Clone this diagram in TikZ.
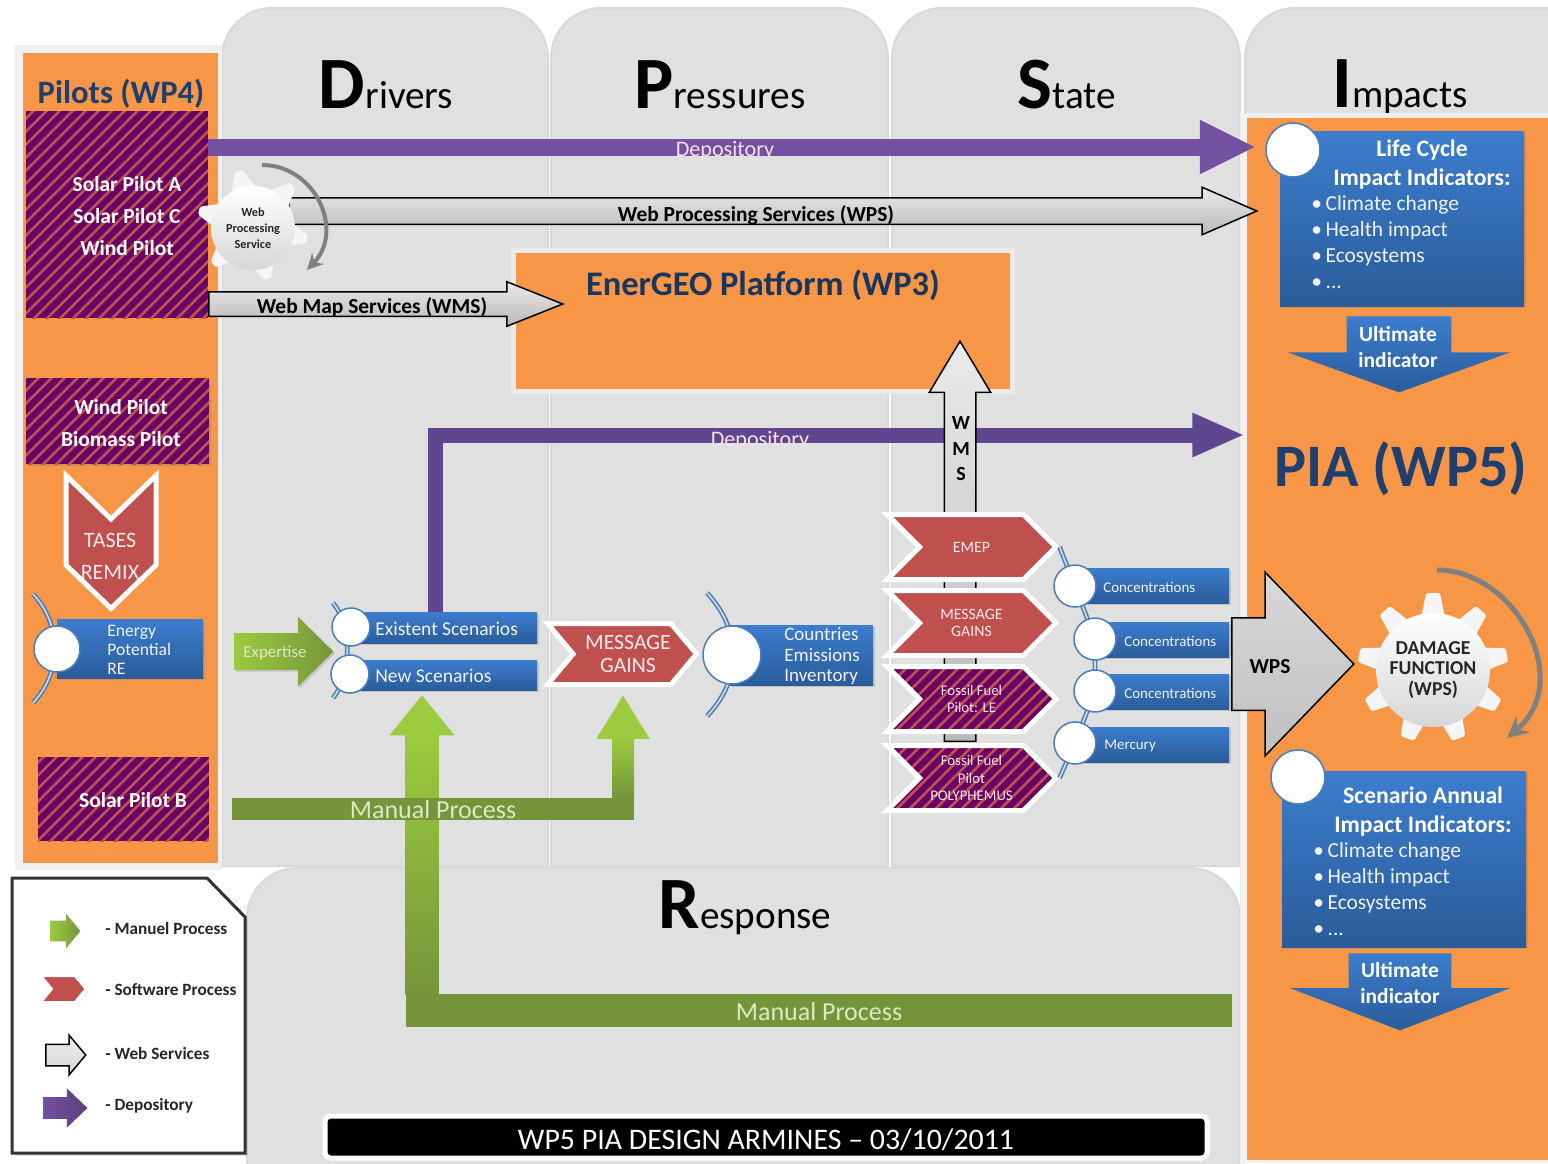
\documentclass[tikz,border=0pt]{standalone}
\usepackage{fontspec}
\setmainfont{Carlito}
\usetikzlibrary{arrows.meta,calc,shapes.arrows,shapes.symbols,shadows}
\definecolor{orangepia}{HTML}{F79646}
\definecolor{panelgray}{HTML}{E0E0E0}
\definecolor{navytxt}{HTML}{1F3F6E}
\definecolor{redsoft}{HTML}{C0504D}
\definecolor{purplehatch}{HTML}{660066}
\definecolor{purpledep}{HTML}{7350A0}
\definecolor{purpledark}{HTML}{5F478F}
\definecolor{bluetop}{HTML}{3C7DCE}
\definecolor{bluebot}{HTML}{2A5C9A}
\definecolor{blueline}{HTML}{4A7EBB}
\definecolor{greenlight}{HTML}{9BCB3E}
\definecolor{greendark}{HTML}{76953A}
\definecolor{greentint}{HTML}{DDE8C4}
\def\px{0.02cm}
\tikzset{
	panel/.style={fill=panelgray,draw=black!15,line width=2*\px,rounded corners=1cm},
	softshadow/.style={drop shadow={opacity=.3,shadow xshift=1pt,shadow yshift=-1pt}},
	hatch/.style={fill=purplehatch,path picture={\foreach \s in {-4,-3.74,...,4} \draw[redsoft,line width=2.6*\px] ([xshift=\s cm]path picture bounding box.center) ++(-2.5cm,-2.5cm) -- ++(5cm,5cm);}},
	hatchbox/.style={hatch,inner sep=0},
	pilottxt/.style={text=white,font=\fontsize{12.2}{18.2}\selectfont\bfseries,align=center},
	bluebox/.style={top color=bluetop,bottom color=bluebot,softshadow,inner sep=0},
	bullet/.style={circle,fill=white,draw=blueline,line width=1.5*\px,inner sep=0},
	linkarc/.style={draw=blueline,line width=1.6*\px,double=black!15,double distance=1.6*\px},
	chevron/.style={softshadow,signal,signal to=east,signal from=west,signal pointer angle=90,draw=white,line width=5*\px,fill=redsoft,inner sep=0,minimum width=169*\px,minimum height=65*\px,text=red!8,align=center},
	webarrow/.style={single arrow,anchor=tail,draw=black,line width=1.5*\px,top color=white!92!black,bottom color=black!28,inner xsep=0},
	blockarrow/.style={single arrow,anchor=tail,inner xsep=0},
	depoline/.style={color=purpledep,line width=17*\px},
	depodark/.style={color=purpledark,line width=15*\px},
	manual/.style={color=greendark,line width=#1*\px},
	smalltxt/.style={text=blue!5,font=\fontsize{8.5}{10}\selectfont},
	bluetxt/.style={text=blue!5,font=\fontsize{11.1}{12}\selectfont,align=left},
	lighttxt/.style={text=white!88!purple,font=\fontsize{12.6}{14}\selectfont},
	mantxt/.style={text=greentint,font=\fontsize{14.8}{16}\selectfont},
	webtxt/.style={text=black,font=\fontsize{12.2}{14}\selectfont\bfseries},
	headtxt/.style={anchor=base,font=\fontsize{22.3}{26}\selectfont},
	titletxt/.style={text=white,font=\fontsize{13.5}{16}\selectfont\bfseries,align=center},
	bulltxt/.style={text=blue!5,font=\fontsize{12.2}{14.8}\selectfont,align=left,anchor=west,inner sep=0},
	legendtxt/.style={anchor=west,text=black!85,font=\fontsize{9.8}{11}\selectfont\bfseries},
	gearface/.style={fill=white!96!black,rounded corners=1pt},
	gearbody/.style={circle,top color=white,bottom color=black!16,inner sep=0,text=black!85,align=center},
	spin/.style={draw=black!50,line width=4*\px,-{Stealth[length=9pt,width=9pt]}},
}
\begin{document}
\begin{tikzpicture}[x=0.02cm,y=-0.02cm]
	\useasboundingbox (0,0) rectangle (1548,1163);
	% Panels
	\foreach \xa/\xb in {222/548,551/888,892/1240,1245/1600}
		\filldraw[panel] (\xa,866) -- (\xa,8) -- (\xb,8) [sharp corners] -- (\xb,866) -- cycle;
	\filldraw[panel] (247,1180) -- (247,868) -- (1240,868) [sharp corners] -- (1240,1180) -- cycle;
	\node[headtxt] (drivers) at (386,108) {{\fontsize{42}{46}\selectfont\bfseries D}rivers};
	\node[headtxt] (pressures) at (720,108) {{\fontsize{42}{46}\selectfont\bfseries P}ressures};
	\node[headtxt] (state) at (1067,108) {{\fontsize{42}{46}\selectfont\bfseries S}tate};
	\node[headtxt] (impacts) at (1400,107) {{\fontsize{42}{46}\selectfont\bfseries I}mpacts};
	\node[headtxt] (response) at (745,928) {{\fontsize{42}{46}\selectfont\bfseries R}esponse};
	% Orange columns
	\fill[black!6] (15,45) rectangle (222,870);
	\fill[orangepia] (23,53) rectangle (218,863);
	\fill[black!6] (1240,113) rectangle (1548,1163);
	\fill[orangepia] (1247,118) rectangle (1548,1160);
	\node[text=navytxt,font=\fontsize{18.6}{20}\selectfont\bfseries] (pilots) at (121,94) {Pilots (WP4)};
	\node[text=navytxt,font=\fontsize{34.3}{40}\selectfont\bfseries] (pia) at (1401,469) {PIA (WP5)};
	% Pilot boxes
	\node[hatchbox,minimum width=182*\px,minimum height=207*\px] (solarbox) at (117,214.5) {};
	\node[pilottxt] (solartxt) at (127,216) {Solar Pilot A\\Solar Pilot C\\Wind Pilot};
	\node[softshadow,hatchbox,minimum width=183*\px,minimum height=86*\px] (windbox) at (117.5,421) {};
	\node[pilottxt] (windtxt) at (121,423) {Wind Pilot\\Biomass Pilot};
	\node[hatchbox,minimum width=171*\px,minimum height=84*\px] (solarb) at (123.5,799) {};
	\node[pilottxt] (solarbtxt) at (133,800) {Solar Pilot B};
	% Energy potential
	\draw[linkarc] (33,594) .. controls (62,625) and (62,672) .. (33,703);
	\node[bluebox,minimum width=146*\px,minimum height=59*\px] (energy) at (130,648.5) {};
	\node[bullet,minimum size=46*\px] (energyb) at (57,649) {};
	\node[bluetxt,anchor=west,inner sep=0,font=\fontsize{10}{11}\selectfont] (energytxt) at (107,650) {Energy\\Potential\\RE};
	\node[chevron,signal to=south,signal from=north,signal pointer angle=92,minimum width=90*\px,minimum height=46*\px] (tases) at (111,542) {};
	\node[text=red!8,font=\fontsize{12.5}{18.2}\selectfont,align=center] (tasestxt) at (110,556) {TASES\\REMIX};
	% Platform
	\node[softshadow,fill=orangepia,draw=white!92!black,line width=5*\px,minimum width=499*\px,minimum height=141*\px] (platform) at (763,321) {};
	\node[text=navytxt!85!black,font=\fontsize{19.6}{22}\selectfont\bfseries] (platformtxt) at (763,285) {EnerGEO Platform (WP3)};
	% Top arrows
	\coordinate (deptip) at (1256,147);
	\draw[depoline,-{Triangle[length=32pt,width=28.5pt]}] (solarbox.east |- deptip) -- (deptip);
	\node[lighttxt] (deptxt) at (725,151) {Depository};
	\node[webarrow,inner ysep=12.5*\px,minimum height=968*\px,minimum width=46*\px,single arrow head extend=10.5*\px,single arrow tip angle=47] (wps) at (288,211) {};
	\node[webtxt] (wpstxt) at (756,215) {Web Processing Services (WPS)};
	\node[webarrow,inner ysep=11.5*\px,minimum height=354*\px,minimum width=43*\px,single arrow head extend=10*\px,single arrow tip angle=43.4] (wms) at (208,304) {};
	\node[webtxt] (wmstxt) at (372,307) {Web Map Services (WMS)};
	% Small gear
	\begin{scope}[shift={(253,225)}]
		\foreach \a in {105,45,-15,-75,-135,165}
			\fill[gearface,rotate=\a] (0.7cm,-0.26cm) -- (1.12cm,-0.08cm) -- (1.12cm,0.08cm) -- (0.7cm,0.26cm) -- cycle;
	\end{scope}
	\node[gearbody,minimum size=84*\px,font=\fontsize{7}{9}\selectfont\bfseries] (webgear) at (253,228) {Web\\Processing\\Service};
	\coordinate (spina) at (262,165);
	\coordinate (spinb) at (307,270);
	\draw[spin] (spina) .. controls (315,165) and (345,230) .. (spinb);
	% Second depository
	\coordinate (depbtip) at (1245,435);
	\coordinate (depbstart) at (435,612);
	\draw[depodark,-{Triangle[length=30pt,width=23pt]}] (depbstart) |- (depbtip);
	\node[lighttxt] (depbtxt) at (760,441) {Depository};
	\node[webarrow,shape border rotate=90,inner xsep=15*\px,inner ysep=0,minimum height=400*\px,minimum width=60*\px,single arrow head extend=15*\px,single arrow tip angle=62] (wmsup) at (960,742) {};
	\node[webtxt,align=center,font=\fontsize{11.4}{14.5}\selectfont\bfseries] (wmsuptxt) at (961,449) {W\\M\\S};
	% Scenarios
	\draw[linkarc] (333,603) .. controls (352,625) and (352,675) .. (333,698);
	\node[bluebox,minimum width=189*\px,minimum height=31*\px] (existing) at (442.5,627.5) {};
	\node[bluebox,minimum width=187*\px,minimum height=30*\px] (newscen) at (443.5,675) {};
	\node[bullet,minimum size=38*\px] (existingb) at (351,627) {};
	\node[bullet,minimum size=38*\px] (newscenb) at (350,674) {};
	\node[bluetxt,anchor=west,inner sep=0] (existingtxt) at (375,629) {Existent Scenarios};
	\node[bluetxt,anchor=west,inner sep=0] (newscentxt) at (375,676) {New Scenarios};
	\node[softshadow,blockarrow,left color=greenlight,right color=greendark,inner ysep=18*\px,minimum height=99*\px,minimum width=69*\px,single arrow head extend=16.5*\px,single arrow tip angle=89] (expertise) at (234,651.5) {};
	\node[text=greentint,font=\fontsize{9.6}{11}\selectfont] (expertisetxt) at (275,653) {Expertise};
	% Manual process
	\coordinate (mana) at (1232,1010);
	\coordinate (manatip) at (422,695);
	\draw[manual=33,-{Triangle[length=23pt,width=35.5pt,color=greenlight]}] (mana) -| (manatip);
	\shade[top color=greenlight,middle color=greenlight!85!greendark,bottom color=greendark] (405.5,734) rectangle (438.5,994);
	\coordinate (manb) at (232,808.5);
	\coordinate (manbtip) at (623,695);
	\draw[manual=22,-{Triangle[length=25pt,width=28.5pt,color=greenlight]}] (manb) -| (manbtip);
	\shade[top color=greenlight,bottom color=greendark] (612,738) rectangle (634,798);
	\node[mantxt] (manbtxt) at (433,810) {Manual Process};
	\node[mantxt] (manatxt) at (819,1012) {Manual Process};
	% Message and inventory
	\draw[linkarc] (707,593) .. controls (742,630) and (742,680) .. (707,716);
	\node[bluebox,minimum width=143*\px,minimum height=60*\px] (countries) at (801.5,655) {};
	\node[bullet,minimum size=58*\px] (countriesb) at (732,655) {};
	\node[bluetxt,anchor=west,inner sep=0,font=\fontsize{10.8}{11.4}\selectfont] (countriestxt) at (784,656) {Countries\\Emissions\\Inventory};
	\node[chevron,minimum width=149*\px,minimum height=61*\px,signal pointer angle=100] (gains) at (622,654) {};
	\node[text=red!8,align=center,font=\fontsize{12.4}{12.6}\selectfont] (gainstxt) at (628,654) {MESSAGE\\GAINS};
	% Models
	\node[chevron,font=\fontsize{9}{11}\selectfont] (emep) at (971.5,547) {EMEP};
	\node[chevron,font=\fontsize{9}{10}\selectfont] (gainsb) at (971.5,623) {MESSAGE\\GAINS};
	\node[chevron,hatch,font=\fontsize{8.4}{9.8}\selectfont] (fossila) at (971.5,699) {Fossil Fuel\\Pilot: LE};
	\node[chevron,hatch,font=\fontsize{8.4}{10}\selectfont] (fossilb) at (971.5,778) {Fossil Fuel\\Pilot\\POLYPHEMUS};
	% Concentrations
	\coordinate (conca) at (1075,586);
	\coordinate (concb) at (1095,639);
	\coordinate (concc) at (1095,691);
	\coordinate (concd) at (1075,743);
	\draw[linkarc] (emep.east) -- (conca) -- (concb) -- (concc) -- (concd) -- (fossilb.east);
	\node[bluebox,minimum width=154*\px,minimum height=35*\px] (concaback) at (1152,585.5) {};
	\node[bluebox,minimum width=134*\px,minimum height=35*\px] (concbback) at (1162,639.5) {};
	\node[bluebox,minimum width=134*\px,minimum height=35*\px] (conccback) at (1162,691.5) {};
	\node[bluebox,minimum width=154*\px,minimum height=35*\px] (concdback) at (1152,744.5) {};
	\foreach \p in {conca,concb,concc,concd}
		\node[bullet,minimum size=42*\px] (\p b) at (\p) {};
	\node[smalltxt,anchor=west,inner sep=0] (concatxt) at (1103,587) {Concentrations};
	\node[smalltxt,anchor=west,inner sep=0] (concbtxt) at (1124,641) {Concentrations};
	\node[smalltxt,anchor=west,inner sep=0] (conctxt) at (1124,693) {Concentrations};
	\node[smalltxt,anchor=west,inner sep=0] (concdtxt) at (1104,746) {Mercury};
	% Life cycle
	\node[bluebox,minimum width=244*\px,minimum height=175*\px] (life) at (1402,218.5) {};
	\node[bullet,minimum size=54*\px] (lifeb) at (1293,150) {};
	\node[titletxt] (lifetxt) at (1422,164.5) {Life Cycle\\Impact Indicators:};
	\node[bulltxt] (lifelist) at (1311,242) {•\,Climate change\\•\,Health impact\\•\,Ecosystems\\•\,...};
	\node[blockarrow,top color=bluetop,bottom color=bluebot,shape border rotate=270,inner xsep=52*\px,inner ysep=0,minimum height=76*\px,minimum width=222*\px,single arrow head extend=59*\px,single arrow tip angle=140.4] (ultimate) at (1399,316) {};
	\node[titletxt,font=\fontsize{12.2}{14.8}\selectfont\bfseries] (ultimatetxt) at (1398,347) {Ultimate\\indicator};
	% Damage function
	\node[webarrow,top color=white!85!black,bottom color=black!25,inner ysep=45.5*\px,minimum height=122*\px,minimum width=182*\px,single arrow head extend=45.5*\px,single arrow tip angle=92] (wpsbig) at (1231,664) {};
	\node[webtxt] (wpsbigtxt) at (1270,667) {WPS};
	\begin{scope}[shift={(1433,668)}]
		\foreach \a in {90,50,10,-30,-70,-110,-150,170,130}
			\fill[gearface,rotate=\a] (1cm,-0.24cm) -- (1.5cm,-0.14cm) -- (1.5cm,0.14cm) -- (1cm,0.24cm) -- cycle;
	\end{scope}
	\node[gearbody,minimum size=114*\px,font=\fontsize{11.2}{11.6}\selectfont\bfseries] (damage) at (1433,670) {DAMAGE\\FUNCTION\\(WPS)};
	\coordinate (spinc) at (1437,570);
	\coordinate (spind) at (1507,738);
	\draw[spin,line width=5*\px,-{Stealth[length=12pt,width=12pt]}] (spinc) .. controls (1515,570) and (1575,680) .. (spind);
	% Scenario annual
	\node[bluebox,minimum width=244*\px,minimum height=176*\px] (annual) at (1404,859) {};
	\node[bullet,minimum size=54*\px] (annualb) at (1298,777) {};
	\node[titletxt] (annualtxt) at (1423,811.5) {Scenario Annual\\Impact Indicators:};
	\node[bulltxt] (annuallist) at (1313,889) {•\,Climate change\\•\,Health impact\\•\,Ecosystems\\•\,...};
	\node[blockarrow,top color=bluetop,bottom color=bluebot,shape border rotate=270,inner xsep=51*\px,inner ysep=0,minimum height=77*\px,minimum width=220*\px,single arrow head extend=59*\px,single arrow tip angle=138] (ultimateb) at (1400,953) {};
	\node[titletxt,font=\fontsize{12.2}{14.8}\selectfont\bfseries] (ultimatebtxt) at (1400,983) {Ultimate\\indicator};
	% Title bar
	\node[softshadow,fill=black,draw=white,line width=5*\px,rounded corners=3pt,minimum width=882*\px,minimum height=42*\px] (bar) at (766,1137) {};
	\node[text=white,font=\fontsize{17}{18}\selectfont] (bartxt) at (766,1140) {WP5 PIA DESIGN ARMINES – 03/10/2011};
	% Legend
	\filldraw[fill=white,draw=black!80,line width=3*\px,drop shadow={opacity=.3,shadow xshift=1.5pt,shadow yshift=-1.5pt}] (12,878) -- (207,878) -- (245,917) -- (245,1153) -- (12,1153) -- cycle;
	\node[blockarrow,left color=greenlight,right color=greendark,inner ysep=10*\px,minimum height=30*\px,minimum width=34*\px,single arrow head extend=7*\px,single arrow tip angle=101] (keymanual) at (50,931) {};
	\node[chevron,signal pointer angle=100,line width=4*\px,minimum width=48*\px,minimum height=28*\px] (keysoft) at (63,989) {};
	\node[webarrow,top color=black!8,bottom color=black!15,inner ysep=10*\px,minimum height=40*\px,minimum width=38*\px,single arrow head extend=9*\px,single arrow tip angle=100] (keyweb) at (45,1055) {};
	\node[blockarrow,left color=purpledep,right color=purpledep!80!black,inner ysep=10.5*\px,minimum height=44*\px,minimum width=39*\px,single arrow head extend=9*\px,single arrow tip angle=88] (keydep) at (43,1108) {};
	\node[legendtxt,inner sep=0] (keymanualtxt) at (105,929) {- Manuel Process};
	\node[legendtxt,inner sep=0] (keysofttxt) at (105,990) {- Software Process};
	\node[legendtxt,inner sep=0] (keywebtxt) at (105,1054) {- Web Services};
	\node[legendtxt,inner sep=0] (keydeptxt) at (105,1106) {- Depository};
\end{tikzpicture}
\end{document}
